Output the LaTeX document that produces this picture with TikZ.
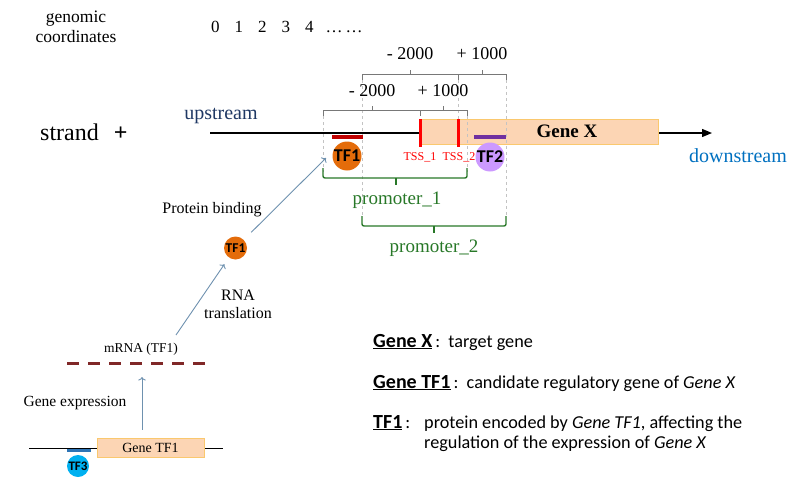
\documentclass[tikz,border=0pt]{standalone}
\usepackage{fontspec}
\setmainfont{Liberation Serif}
\newfontfamily\keyfont{Carlito}
\usetikzlibrary{positioning,arrows.meta}

\definecolor{updark}{RGB}{31,56,100}
\definecolor{downblue}{RGB}{0,112,192}
\definecolor{promgreen}{RGB}{40,120,40}
\definecolor{bracketgrey}{RGB}{120,120,120}
\definecolor{guidegrey}{RGB}{195,195,195}
\definecolor{genefill}{RGB}{252,213,180}
\definecolor{geneedge}{RGB}{250,200,110}
\definecolor{tfone}{RGB}{228,108,10}
\definecolor{tfonesite}{RGB}{192,0,0}
\definecolor{tftwo}{RGB}{204,153,255}
\definecolor{tftwosite}{RGB}{112,48,160}
\definecolor{tfthree}{RGB}{0,176,240}
\definecolor{tfthreesite}{RGB}{46,117,182}
\definecolor{flowblue}{RGB}{110,145,175}
\definecolor{mrnared}{RGB}{128,40,40}

\newcommand{\keyhead}[1]{{\fontsize{20}{20}\selectfont\underline{\textbf{#1}}}}

\begin{document}
\begin{tikzpicture}[x=1pt, y=-1pt,
  lbl/.style={inner sep=0pt, font=\fontsize{#1}{#1}\selectfont},
  key/.style={inner sep=0pt, font=\keyfont\fontsize{18.2}{20}\selectfont},
  bracket/.style={draw=bracketgrey, line width=1pt},
  guide/.style={draw=guidegrey, dashed, line width=0.8pt},
  brace/.style={draw=promgreen, line width=1.4pt, rounded corners=2pt},
  tss/.style={draw=red, line width=3pt},
  tfdot/.style={circle, inner sep=0pt, text=black},
  flow/.style={->, draw=flowblue, line width=0.9pt},
  genebox/.style={draw=geneedge, fill=genefill, line width=0.8pt, inner sep=0pt}]

  \useasboundingbox (0,0) rectangle (800,479);

  % Genomic coordinates
  \node[lbl=17.5, align=center] (coordlbl) at (76,27) {genomic\\[3pt]coordinates};
  \node[lbl=17, anchor=west] (coordnums) at (211,27)
    {0\hspace{15pt}1\hspace{15pt}2\hspace{15pt}3\hspace{15pt}4\hspace{12pt}\dots\hspace{3pt}\dots};

  % Strand
  \node[lbl=24, anchor=west] (strandlbl) at (40,132) {strand\hspace{15pt}\textbf{+}};
  \node[lbl=20, text=updark] (uplbl) at (221,116) {upstream};
  \coordinate (s0) at (210,133);
  \coordinate (s1) at (712,133);
  \draw[line width=1.3pt, -{Triangle[length=10pt,width=8pt]}] (s0) -- (s1);
  \node[genebox, minimum width=238pt, minimum height=25pt] (geneX) at (539,132) {};
  \node[lbl=19] (geneXlbl) at (567,131) {\textbf{Gene X}};
  \node[lbl=20, text=downblue] (downlbl) at (738,156) {downstream};

  % Guides
  \draw[guide] (323,116) -- (323,172);
  \draw[guide] (467,116) -- (467,172);
  \draw[guide] (362,80) -- (362,216);
  \draw[guide] (506,80) -- (506,216);
  \draw[guide] (458,80) -- (458,119);

  % TSS
  \draw[tss] (420,119) -- (420,147);
  \draw[tss] (458,119) -- (458,147);
  \node[lbl=12, text=red] (tss1lbl) at (420,157) {TSS\_1};
  \node[lbl=12, text=red] (tss2lbl) at (459,157) {TSS\_2};

  % Binding sites
  \draw[line width=4pt, tfonesite] (332,137) -- (363,137);
  \draw[line width=4pt, tftwosite] (474,137) -- (506,137);
  \node[tfdot, minimum size=29pt, fill=tfone, font=\keyfont\bfseries\fontsize{18}{18}\selectfont] (tf1) at (347,156) {TF1};
  \node[tfdot, minimum size=29pt, fill=tftwo, font=\keyfont\bfseries\fontsize{18}{18}\selectfont] (tf2) at (490,157) {TF2};

  % Brackets
  \draw[bracket] (323,116) -- (323,110) -- (467,110) -- (467,116);
  \draw[bracket] (420,110) -- (420,116);
  \draw[bracket] (372,110) -- (372,106);
  \draw[bracket] (443,110) -- (443,106);
  \node[lbl=18] (minusA) at (372,91) {- 2000};
  \node[lbl=18] (plusA) at (443,91) {+ 1000};

  \draw[bracket] (362,80) -- (362,74) -- (506,74) -- (506,80);
  \draw[bracket] (458,74) -- (458,80);
  \draw[bracket] (410,74) -- (410,70);
  \draw[bracket] (482,74) -- (482,70);
  \node[lbl=18] (minusB) at (410,54) {- 2000};
  \node[lbl=18] (plusB) at (482,54) {+ 1000};

  % Promoters
  \draw[brace] (323,168) -- (323,178) -- (467,178) -- (467,168);
  \draw[brace] (396,178) -- (396,185);
  \node[lbl=19, text=promgreen] (prom1) at (397,200) {promoter\_1};
  \draw[brace] (362,216) -- (362,226) -- (506,226) -- (506,216);
  \draw[brace] (434,226) -- (434,233);
  \node[lbl=19, text=promgreen] (prom2) at (434,248) {promoter\_2};

  % Gene TF1
  \coordinate (g0) at (29,448);
  \coordinate (g1) at (223,448);
  \draw[line width=1pt] (g0) -- (g1);
  \node[genebox, lbl=14, minimum width=107pt, minimum height=19pt] (geneTF1) at (150.5,447.5) {Gene TF1};
  \draw[line width=3pt, tfthreesite] (67,450) -- (91,450);
  \node[tfdot, minimum size=22pt, fill=tfthree, font=\keyfont\bfseries\fontsize{13}{13}\selectfont] (tf3) at (78,466) {TF3};

  % mRNA
  \coordinate (mrnaL) at (67,363);
  \coordinate (mrnaR) at (205,363);
  \draw[mrnared, line width=3pt, dash pattern=on 12pt off 9pt] (mrnaL) -- (mrnaR);
  \node[lbl=13.5] (mrnalbl) at (141,349) {mRNA (TF1)};
  \node[lbl=15.5] (exprlbl) at (75,403) {Gene expression};
  \coordinate (exprTop) at (142,377);
  \draw[flow] ([xshift=-8.5pt, yshift=8pt]geneTF1.north) -- (exprTop);

  % Translation and binding
  \node[tfdot, minimum size=23pt, fill=tfone, font=\keyfont\bfseries\fontsize{13.5}{13.5}\selectfont] (tf1free) at (235.5,248) {TF1};
  \coordinate (transStart) at (176,335);
  \draw[flow, shorten >=8pt] (transStart) -- (tf1free);
  \node[lbl=16, align=center] (translbl) at (238,304) {RNA\\[2pt]translation};
  \coordinate (bindEnd) at (326,158);
  \draw[flow, shorten <=10.5pt] (tf1free) -- (bindEnd);
  \node[lbl=16] (bindlbl) at (212,210) {Protein binding};

  % Legend
  \node[key, anchor=base west] (keyX) at (373,347) {\keyhead{Gene X}\,:\ \ target gene};
  \node[key, anchor=base west] (keyGene) at (373,388) {\keyhead{Gene TF1}\,:\ \ candidate regulatory gene of \textit{Gene X}};
  \node[key, anchor=base west] (keyTF) at (373,428) {\keyhead{TF1}\,:};
  \node[key, anchor=base west] (keyTFa) at (424,428) {protein encoded by \textit{Gene TF1}, affecting the};
  \node[key, anchor=base west] (keyTFb) at (424,448) {regulation of the expression of \textit{Gene X}};
\end{tikzpicture}
\end{document}
